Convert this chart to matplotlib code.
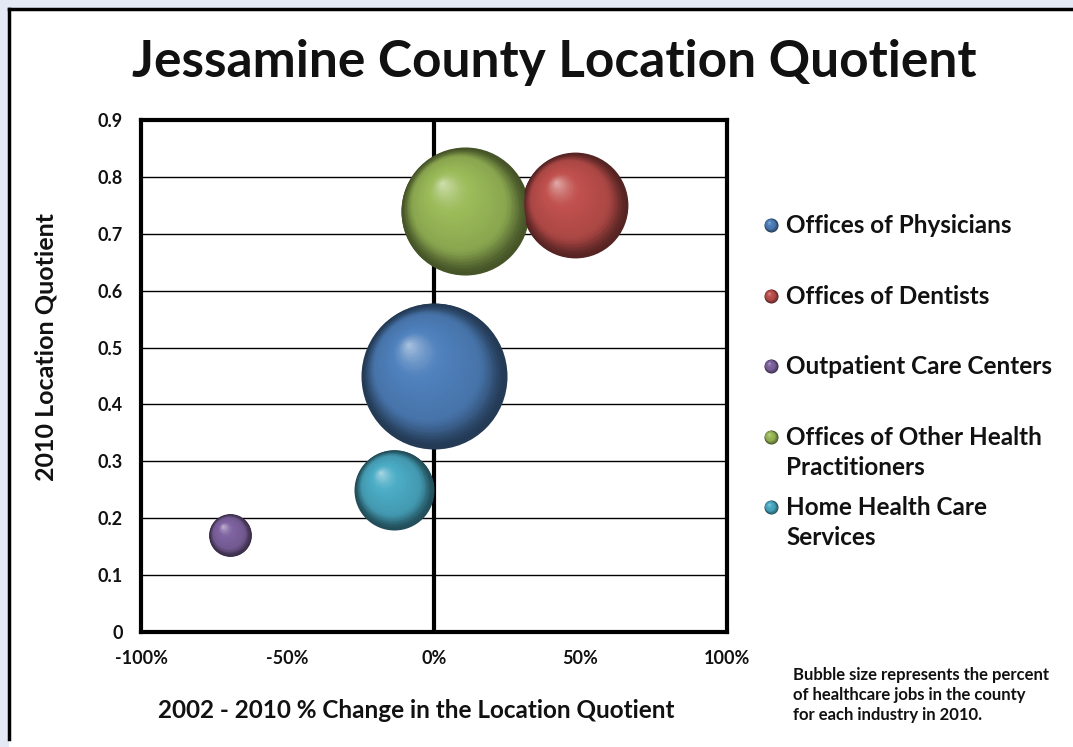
import numpy as np
import matplotlib
matplotlib.use('Agg')
import matplotlib.pyplot as plt
from matplotlib.colors import to_rgb
from matplotlib.transforms import offset_copy
from matplotlib.ticker import FuncFormatter

# data
industries = ['Offices of Physicians', 'Offices of Dentists',
              'Outpatient Care Centers',
              'Offices of Other Health\nPractitioners',
              'Home Health Care\nServices']
pct_change = [0.0, 48.0, -69.5, 10.5, -13.5]      # 2002-2010 % change in LQ
lq_2010 = [0.45, 0.75, 0.17, 0.74, 0.25]          # 2010 location quotient
job_share = [37.3, 19.6, 3.2, 28.7, 11.2]         # % of healthcare jobs
colors = ['#4f81bd', '#c0504d', '#8064a2', '#9bbb59', '#4bacc6']

plt.rcParams['font.family'] = ['Lato', 'DejaVu Sans']
plt.rcParams['font.weight'] = 'bold'
plt.rcParams['axes.labelweight'] = 'bold'
TXT = '#111111'


def mix(c1, c2, t):
    c1, c2 = np.array(to_rgb(c1)), np.array(to_rgb(c2))
    t = min(max(t, 0.0), 1.0)
    return tuple(c1 + (c2 - c1) * t)


def sphere(ax, x, y, diam, color, fig, transform=None, n=60):
    """fake 3-d ball: stack of shrinking circles drifting to a highlight"""
    base = transform if transform is not None else ax.transData
    dark = mix(color, 'black', 0.55)
    mid = mix(color, 'black', 0.1)
    light = mix(color, 'white', 0.55)
    for k in range(n):
        t = k / (n - 1)
        d = diam * (1 - t)
        off = 0.2 * diam * t
        tr = offset_copy(base, fig=fig, x=-off * 0.9, y=off * 1.1, units='points')
        if t < 0.3:
            s = t / 0.3
            c = mix(dark, mid, s * s * (3 - 2 * s))
        elif t < 0.65:
            c = mix(mid, color, (t - 0.3) / 0.35)
        else:
            s = (t - 0.65) / 0.35
            c = mix(color, light, s ** 1.5)
        ax.plot(x, y, 'o', ms=max(d, 0.1), color=c, mec='none',
                transform=tr, zorder=5 + k * 0.01, clip_on=False)


fig = plt.figure(figsize=(10.73, 7.47), dpi=100)
fig.patch.set_facecolor('#e3e9f5')
# white card with black top / left edge
fig.patches.append(plt.Rectangle((9 / 1073, 0), 1, 1 - 9 / 747,
                                 transform=fig.transFigure,
                                 facecolor='white', edgecolor='none',
                                 zorder=-10))
fig.lines.append(plt.Line2D([9 / 1073, 1], [1 - 9 / 747] * 2,
                            transform=fig.transFigure, color='black', lw=2.5))
fig.lines.append(plt.Line2D([9 / 1073] * 2, [8 / 747, 1 - 9 / 747],
                            transform=fig.transFigure, color='black', lw=2.5))

ax = fig.add_axes([141 / 1073, 1 - 632 / 747, 586 / 1073, 512 / 747])
ax.set_facecolor('white')
ax.set_xlim(-100, 100)
ax.set_ylim(0, 0.9)
ax.set_xticks([-100, -50, 0, 50, 100])
ax.set_yticks(np.arange(0, 0.91, 0.1))
ax.xaxis.set_major_formatter(FuncFormatter(lambda v, p: '%d%%' % v))
ax.yaxis.set_major_formatter(FuncFormatter(lambda v, p: '0' if v == 0 else '%.1f' % v))
ax.tick_params(length=0, labelsize=13, colors=TXT)
ax.tick_params(axis='y', pad=13)
ax.tick_params(axis='x', pad=13)
ax.grid(axis='y', color='black', lw=1.0)
ax.set_axisbelow(True)
for s in ax.spines.values():
    s.set_linewidth(3)
ax.axvline(0, color='black', lw=3, zorder=2)

# bubble area ~ share of jobs
scale = 2 * 73 * 0.72 / np.sqrt(37.3)
for x, y, share, col in zip(pct_change, lq_2010, job_share, colors):
    sphere(ax, x, y, scale * np.sqrt(share), col, fig)

ax.set_xlabel('2002 - 2010 % Change in the Location Quotient',
              fontsize=17.5, color=TXT, va='center')
ax.xaxis.set_label_coords((416 - 141) / 586, -(710 - 632) / 512)
ax.set_ylabel('2010 Location Quotient', fontsize=18, color=TXT, va='center')
ax.yaxis.set_label_coords(-(141 - 46) / 586, (632 - 347) / 512)
fig.text(554 / 1073, 1 - 62 / 747, 'Jessamine County Location Quotient',
         ha='center', va='center', fontsize=37, color=TXT)

# legend drawn by hand so the dot sits on the first line
lax = fig.add_axes([0, 0, 1, 1], facecolor='none')
lax.set_xlim(0, 1073)
lax.set_ylim(747, 0)
lax.axis('off')
ypos = [225, 296, 366, 437, 507]
for lab, col, yy in zip(industries, colors, ypos):
    sphere(lax, 771, yy, 14 * 0.72, col, fig, n=20)
    lax.text(786, yy, lab, ha='left', va='top', fontsize=17.5, color=TXT,
             linespacing=1.35, transform=offset_copy(lax.transData, fig=fig,
                                                    y=8, units='points'))

fig.text(793 / 1073, 1 - 667 / 747,
         'Bubble size represents the percent\nof healthcare jobs in the county\nfor each industry in 2010.',
         ha='left', va='top', fontsize=12.0, color=TXT, linespacing=1.3)

fig.savefig('out.png', dpi=100)
